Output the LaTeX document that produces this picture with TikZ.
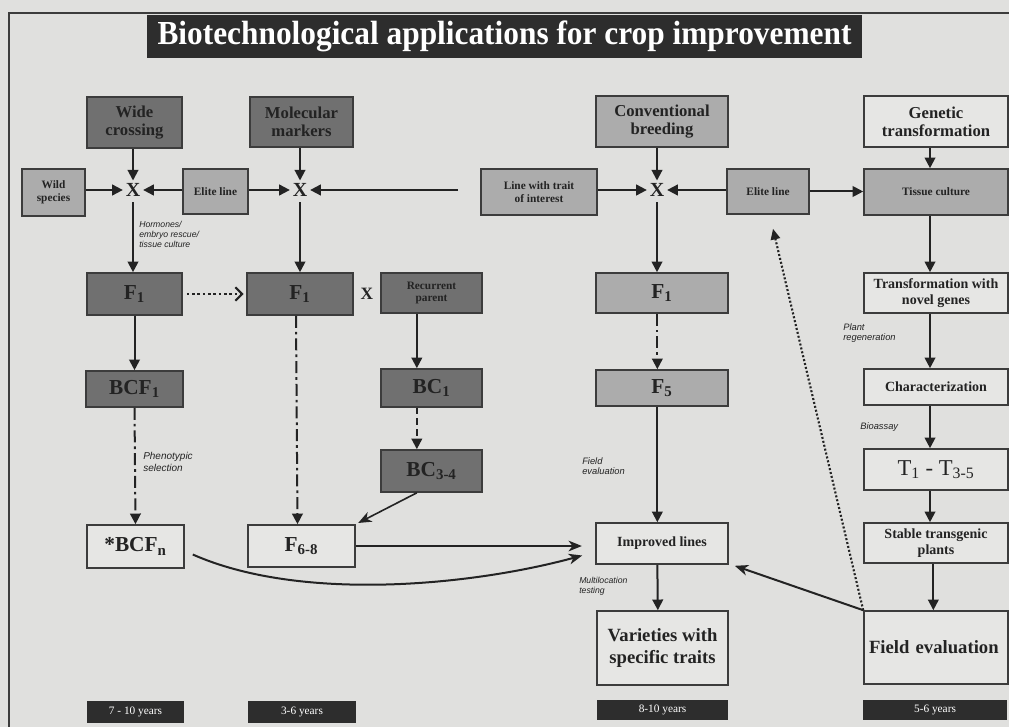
\documentclass[tikz,border=0pt]{standalone}
\usepackage{fontspec}
\usepackage{graphicx}
\setmainfont{Liberation Serif}
\setsansfont{Liberation Sans}
\usetikzlibrary{arrows.meta,calc}
\definecolor{bgc}{RGB}{224,224,222}
\definecolor{darkf}{RGB}{112,112,112}
\definecolor{medf}{RGB}{172,172,172}
\definecolor{lightf}{RGB}{230,230,228}
\definecolor{edge}{RGB}{60,60,60}
\definecolor{ink}{RGB}{35,35,35}
\definecolor{banner}{RGB}{45,45,45}
\newcommand{\sbs}[1]{\textsubscript{#1}}
\begin{document}
\begin{tikzpicture}[x=0.75pt,y=-0.75pt,
  sz/.style 2 args={minimum width={#1*0.75pt},minimum height={#2*0.75pt}},
  basebox/.style={draw=edge,line width=1.2pt,inner sep=1pt,align=center,text=ink},
  darkbox/.style={basebox,fill=darkf},
  medbox/.style={basebox,fill=medf},
  lightbox/.style={basebox,fill=lightf},
  fbig/.style={font=\bfseries\fontsize{16}{17}\selectfont},
  ftop/.style={font=\bfseries\fontsize{12.5}{13.5}\selectfont},
  fsmall/.style={font=\bfseries\fontsize{8.5}{9.5}\selectfont},
  fmid/.style={font=\bfseries\fontsize{10.5}{12}\selectfont},
  flarge/.style={font=\bfseries\fontsize{14}{16}\selectfont},
  yearbox/.style={fill=banner,text=white,inner sep=0pt,font=\fontsize{8.5}{10}\selectfont},
  cross/.style={font=\bfseries\fontsize{15}{15}\selectfont,text=ink,inner sep=2pt},
  note/.style={font=\sffamily\itshape\fontsize{6.5}{7.5}\selectfont,text=ink,align=left,inner sep=0pt},
  arr/.style={draw=ink,line width=1.5pt,-{Triangle[length=8pt,width=8pt]}},
  arrS/.style={draw=ink,line width=1.5pt,-{Stealth[length=10pt,width=8pt,inset=3pt]}},
  dashdot/.style={arr,dash pattern=on 9pt off 3pt on 2pt off 3pt},
  dashln/.style={arr,dash pattern=on 5pt off 3pt},
  dotarr/.style={draw=ink,line width=1.6pt,dash pattern=on 1.5pt off 1.5pt,-{Triangle[length=8pt,width=7pt]}},
  dotbarb/.style={draw=ink,line width=1.6pt,dash pattern=on 2pt off 2pt,-{Straight Barb[length=5pt,width=10pt]}}
]
\useasboundingbox (0,0) rectangle (1009,727);
\fill[bgc] (0,0) rectangle (1009,727);
\draw[edge,line width=1pt] (1009,13) -- (9,13) -- (9,727);

% title
\node[fill=banner,text=white,sz={715}{43},inner sep=0pt,font=\bfseries\fontsize{24}{25}\selectfont] (title) at (504.5,36.5) {\scalebox{0.98}[1.05]{Biotechnological applications for crop improvement}};

% ---------- left part
\node[darkbox,ftop,sz={95}{51}] (wide) at (134.5,122.5) {Wide\\crossing};
\node[darkbox,ftop,sz={103}{50}] (mol) at (301.5,122) {Molecular\\markers};
\node[medbox,fsmall,sz={63}{47}] (wild) at (53.5,192.5) {Wild\\species};
\node[medbox,fsmall,sz={65}{45}] (elite1) at (215.5,191.5) {Elite line};
\node[cross] (x1) at (133,190) {X};
\node[cross] (x2) at (300,190) {X};
\coordinate (far) at (458,190);

\node[darkbox,fbig,sz={95}{42}] (f1a) at (134.5,294) {F\sbs{1}};
\node[darkbox,fbig,sz={106}{42}] (f1b) at (300,294) {F\sbs{1}};
\node[cross,font=\bfseries\fontsize{13}{13}\selectfont] (xs) at (367,294) {X};
\node[darkbox,fsmall,sz={101}{40}] (rec) at (431.5,293) {Recurrent\\parent};
\node[darkbox,fbig,sz={97}{36}] (bcf1) at (134.5,389) {BCF\sbs{1}};
\node[darkbox,fbig,sz={101}{38}] (bc1) at (431.5,388) {BC\sbs{1}};
\node[darkbox,fbig,sz={101}{42}] (bc34) at (431.5,471) {BC\sbs{3-4}};
\node[lightbox,fbig,sz={97}{43}] (bcfn) at (135.5,546.5) {*BCF\sbs{n}};
\node[lightbox,fbig,sz={107}{42}] (f68) at (301.5,546) {F\sbs{6-8}};

\node[note,anchor=north west] (hormo) at (139,221) {Hormones/\\embryo rescue/\\tissue culture};
\node[note,anchor=west,font=\sffamily\itshape\fontsize{7.5}{8.5}\selectfont] (pheno) at (143,462) {Phenotypic\\selection};

% ---------- middle part
\node[medbox,ftop,sz={132}{51}] (conv) at (662,121.5) {Conventional\\breeding};
\node[medbox,fsmall,sz={116}{46}] (trait) at (539,192) {Line with trait\\of interest};
\node[cross] (x3) at (657,190) {X};
\node[medbox,fsmall,sz={82}{45}] (elite2) at (768,191.5) {Elite line};
\node[medbox,fbig,sz={132}{40}] (f1c) at (662,293) {F\sbs{1}};
\node[medbox,fbig,sz={132}{36}] (f5) at (662,388) {F\sbs{5}};
\node[lightbox,fmid,sz={132}{41}] (impr) at (662,543.5) {Improved lines};
\node[lightbox,flarge,sz={131}{74}] (var) at (662.5,648) {Varieties with\\specific traits};
\node[note,anchor=west,font=\sffamily\itshape\fontsize{7}{8}\selectfont] (fieldlab) at (582,466) {Field\\evaluation};
\node[note,anchor=west,font=\sffamily\itshape\fontsize{6.5}{7.5}\selectfont] (multi) at (579,586) {Multilocation\\testing};

% ---------- right part
\node[lightbox,ftop,sz={144}{51}] (gen) at (936,121.5) {Genetic\\transformation};
\node[medbox,fsmall,sz={144}{46}] (tissue) at (936,192) {Tissue culture};
\node[lightbox,fmid,sz={144}{40}] (trans) at (936,293) {Transformation with\\novel genes};
\node[lightbox,fmid,sz={144}{36}] (char) at (936,387) {Characterization};
\node[lightbox,sz={144}{41},font=\fontsize{17}{18}\selectfont] (tt) at (936,469.5) {T\sbs{1} - T\sbs{3-5}};
\node[lightbox,fmid,sz={144}{40}] (stab) at (936,543) {Stable transgenic\\plants};
\node[lightbox,flarge,sz={144}{73},align=left,text width=134*0.75pt] (field) at (936,647.5) {Field evaluation};
\node[note,anchor=west,font=\sffamily\itshape\fontsize{7}{8}\selectfont] (plantreg) at (843,333) {Plant\\regeneration};
\node[note,anchor=west,font=\sffamily\itshape\fontsize{7}{8}\selectfont] (bioas) at (860,427) {Bioassay};

% ---------- year banners
\node[yearbox,sz={97}{22}] (yr1) at (135.5,712) {7 - 10 years};
\node[yearbox,sz={108}{22}] (yr2) at (302,712) {3-6 years};
\node[yearbox,sz={131}{20}] (yr3) at (662.5,710) {8-10 years};
\node[yearbox,sz={144}{20}] (yr4) at (935,710) {5-6 years};

% ---------- connectors left
\draw[arr] (wide.south -| x1) -- (x1.north);
\draw[arr] (mol.south -| x2) -- (x2.north);
\draw[arr] (x1 -| wild.east) -- (x1.west);
\draw[arr] (x1 -| elite1.west) -- (x1.east);
\draw[arr] (x2 -| elite1.east) -- (x2.west);
\draw[arr] (far) -- (x2.east);
\draw[arr] ([yshift=-2pt]x1.south) -- (x1.south |- f1a.north);
\draw[arr] ([yshift=-2pt]x2.south) -- (x2.south |- f1b.north);
\draw[dotbarb,shorten <=3pt,shorten >=2pt] (f1a.east) -- (f1b.west);
\draw[arr] (f1a.south) -- (bcf1.north);
\draw[dashdot] (bcf1.south) -- (bcfn.north);
\draw[dashdot] ([xshift=-3pt]f1b.south) -- ([xshift=-3pt]f68.north);
\draw[arr] ([xshift=-11pt]rec.south) -- ([xshift=-11pt]bc1.north);
\draw[dashln] ([xshift=-11pt]bc1.south) -- ([xshift=-11pt]bc34.north);
\draw[arrS,line width=1.2pt,shorten >=2pt] ([xshift=-11pt]bc34.south) -- (f68.north east);
\draw[arrS,shorten >=10pt] (f68.east) -- (f68.east -| impr.west);
\draw[arrS] ([xshift=6pt,yshift=-6pt]bcfn.east) .. controls (300,602) and (470,586) .. ($(impr.west)+(-13,12)$);

% ---------- connectors middle
\draw[arr] (conv.south -| x3) -- (x3.north);
\draw[arr] (x3 -| trait.east) -- (x3.west);
\draw[arr] (x3 -| elite2.west) -- (x3.east);
\draw[arr] (elite2.east) -- (elite2.east -| tissue.west);
\draw[arr] ([yshift=-2pt]x3.south) -- (x3.south |- f1c.north);
\draw[dashdot] ([xshift=-3.5pt]f1c.south) -- ([xshift=-3.5pt]f5.north);
\draw[arr] ([xshift=-3.5pt]f5.south) -- ([xshift=-3.5pt]impr.north);
\draw[arr] ([xshift=-3.5pt]impr.south) -- ([xshift=-3.5pt]var.north);

% ---------- connectors right
\draw[arr] ([xshift=-4.5pt]gen.south) -- ([xshift=-4.5pt]tissue.north);
\draw[arr] ([xshift=-4.5pt]tissue.south) -- ([xshift=-4.5pt]trans.north);
\draw[arr] ([xshift=-4.5pt]trans.south) -- ([xshift=-4.5pt]char.north);
\draw[arr] ([xshift=-4.5pt]char.south) -- ([xshift=-4.5pt]tt.north);
\draw[arr] ([xshift=-4.5pt]tt.south) -- ([xshift=-4.5pt]stab.north);
\draw[arr] ([xshift=-2pt]stab.south) -- ([xshift=-2pt]field.north);
\draw[arrS] (field.north west) -- ($(impr.south east)+(6,1)$);
\draw[dotarr] (field.north west) -- ($(elite2.south)+(5,14)$);
\end{tikzpicture}
\end{document}
